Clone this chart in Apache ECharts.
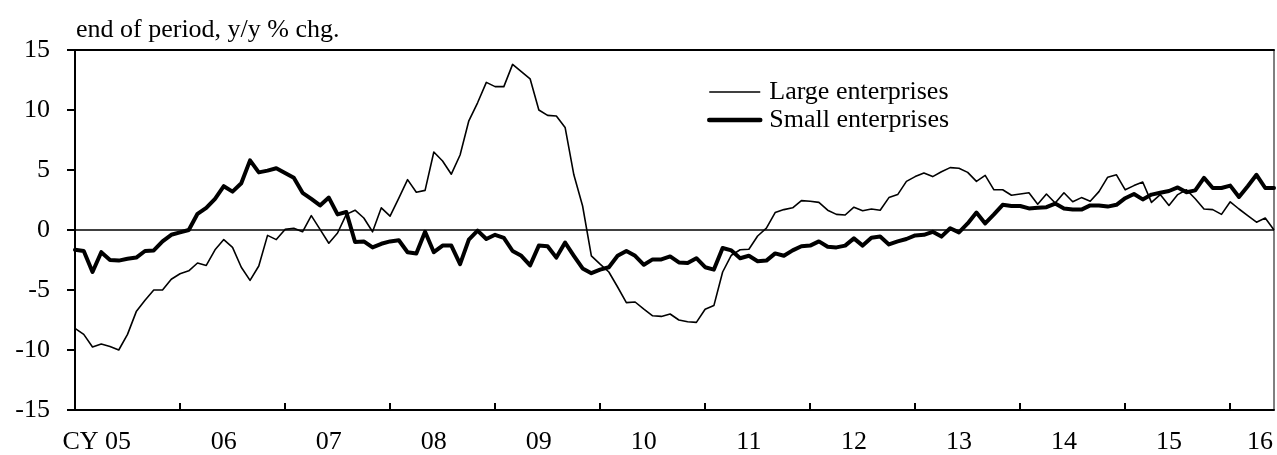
<!DOCTYPE html>
<html>
<head>
<meta charset="utf-8">
<script src="https://cdn.jsdelivr.net/npm/echarts@6/dist/echarts.min.js"></script>
<style>
  html, body { margin: 0; padding: 0; background: #fff; }
  #chart { width: 1277px; height: 455px; }
</style>
</head>
<body>
<div id="chart"></div>
<script>
// Monthly series, January 2005 onward (end of period, y/y % change)
const firstYear = 2005;
const monthCount = 138;

const yearLabels = ['CY 05', '06', '07', '08', '09', '10', '11', '12', '13', '14', '15', '16'];

const yMin = -15;
const yMax = 15;
const yStep = 5;

const largeEnterprises = [
  -8.2, -8.7, -9.75, -9.5, -9.7, -10.0, -8.7, -6.8, -5.85, -5.0, -5.0, -4.1,
  -3.65, -3.4, -2.75, -2.95, -1.65, -0.8, -1.45, -3.1, -4.2, -3.0, -0.45, -0.8,
  0.05, 0.15, -0.15, 1.2, 0.05, -1.1, -0.25, 1.3, 1.65, 1.0, -0.15, 1.85,
  1.15, 2.65, 4.2, 3.15, 3.3, 6.5, 5.75, 4.65, 6.25, 9.1, 10.6, 12.3,
  11.95, 11.95, 13.8, 13.2, 12.6, 10.0, 9.55, 9.5, 8.55, 4.6, 2.0, -2.15,
  -2.85, -3.5, -4.75, -6.05, -6.0, -6.6, -7.15, -7.2, -7.0, -7.5, -7.65, -7.7,
  -6.6, -6.3, -3.5, -2.1, -1.65, -1.6, -0.5, 0.15, 1.45, 1.7, 1.85, 2.45,
  2.4, 2.3, 1.65, 1.3, 1.25, 1.9, 1.6, 1.75, 1.65, 2.7, 2.95, 4.05,
  4.45, 4.75, 4.45, 4.85, 5.2, 5.15, 4.8, 4.05, 4.55, 3.35, 3.35, 2.9,
  3.0, 3.1, 2.15, 3.0, 2.25, 3.1, 2.35, 2.7, 2.4, 3.2, 4.4, 4.6,
  3.35, 3.7, 4.0, 2.3, 2.95, 2.05, 2.95, 3.35, 2.6, 1.75, 1.7, 1.3,
  2.35, 1.75, 1.2, 0.65, 1.0, 0.0
];

const smallEnterprises = [
  -1.65, -1.75, -3.5, -1.85, -2.5, -2.55, -2.4, -2.3, -1.75, -1.7, -0.95, -0.4,
  -0.2, 0.0, 1.35, 1.85, 2.6, 3.65, 3.2, 3.9, 5.8, 4.8, 4.95, 5.15,
  4.75, 4.35, 3.1, 2.6, 2.05, 2.7, 1.3, 1.5, -1.0, -0.95, -1.45, -1.15,
  -0.95, -0.85, -1.85, -1.95, -0.15, -1.85, -1.3, -1.3, -2.85, -0.8, -0.05, -0.75,
  -0.4, -0.65, -1.75, -2.15, -2.95, -1.3, -1.35, -2.3, -1.05, -2.15, -3.2, -3.6,
  -3.3, -3.1, -2.15, -1.75, -2.15, -2.9, -2.45, -2.45, -2.2, -2.7, -2.75, -2.35,
  -3.1, -3.3, -1.5, -1.7, -2.35, -2.15, -2.6, -2.55, -1.95, -2.15, -1.7, -1.35,
  -1.3, -0.95, -1.4, -1.45, -1.3, -0.7, -1.3, -0.65, -0.55, -1.2, -0.95, -0.75,
  -0.45, -0.4, -0.15, -0.55, 0.15, -0.2, 0.55, 1.45, 0.55, 1.3, 2.1, 2.0,
  2.0, 1.8, 1.85, 1.9, 2.2, 1.8, 1.7, 1.7, 2.05, 2.05, 1.95, 2.1,
  2.65, 3.0, 2.55, 2.95, 3.1, 3.25, 3.55, 3.15, 3.3, 4.35, 3.5, 3.5,
  3.7, 2.75, 3.65, 4.6, 3.5, 3.5
];

// Month categories such as "2005/01"
const months = [];
for (let i = 0; i < monthCount; i++) {
  const y = firstYear + Math.floor(i / 12);
  const m = (i % 12) + 1;
  months.push(y + '/' + (m < 10 ? '0' : '') + m);
}

const serif = '"Liberation Serif", "Times New Roman", Times, serif';
const ink = '#000';

const chart = echarts.init(document.getElementById('chart'), null, { renderer: 'canvas' });

chart.setOption({
  animation: false,
  backgroundColor: '#fff',
  title: {
    text: 'end of period, y/y % chg.',
    left: 76,
    top: 17,
    padding: 0,
    textStyle: { fontFamily: serif, fontSize: 26, fontWeight: 'normal', color: ink }
  },
  legend: {
    orient: 'vertical',
    left: 707,
    top: 79,
    padding: 0,
    itemGap: 2,
    itemWidth: 51,
    itemHeight: 14,
    selectedMode: false,
    // keys are plain lines: the point marker is hidden
    itemStyle: { opacity: 0 },
    textStyle: { fontFamily: serif, fontSize: 26, color: ink, padding: [0, 0, 0, 4] },
    data: [
      { name: 'Large enterprises', itemStyle: { opacity: 0 }, lineStyle: { width: 1.6, color: ink } },
      { name: 'Small enterprises', itemStyle: { opacity: 0 }, lineStyle: { width: 4.5, color: ink, cap: 'round' } }
    ]
  },
  grid: {
    left: 75,
    right: 3,
    top: 50,
    bottom: 41,
    show: true,
    borderColor: ink,
    borderWidth: 1,
    backgroundColor: 'transparent'
  },
  xAxis: [
    {
      type: 'category',
      data: months,
      boundaryGap: false,
      position: 'bottom',
      axisLine: { onZero: false, lineStyle: { color: ink, width: 2 } },
      axisTick: {
        inside: true,
        length: 7,
        interval: function (i) { return i % 12 === 0; },
        lineStyle: { color: ink, width: 2 }
      },
      axisLabel: {
        interval: function (i) { return i % 12 === 5; },
        formatter: function (v, i) {
          const k = (i - 5) / 12;
          if (k === 0) return '{first|' + yearLabels[k] + '}';
          if (k === yearLabels.length - 1) return '{last|' + yearLabels[k] + '}';
          return yearLabels[k];
        },
        color: ink,
        fontFamily: serif,
        fontSize: 26,
        margin: 19,
        rich: {
          first: { fontFamily: serif, fontSize: 26, color: ink, padding: [0, 44, 0, 0] },
          last: { fontFamily: serif, fontSize: 26, color: ink, padding: [0, 28, 0, 0] }
        }
      },
      splitLine: { show: false }
    },
    {
      type: 'category',
      data: months,
      boundaryGap: false,
      position: 'top',
      axisLine: { onZero: false, lineStyle: { color: ink, width: 2 } },
      axisTick: { show: false },
      axisLabel: { show: false },
      splitLine: { show: false }
    }
  ],
  yAxis: {
    type: 'value',
    min: yMin,
    max: yMax,
    interval: yStep,
    axisLine: { show: true, onZero: false, lineStyle: { color: ink, width: 2 } },
    axisTick: { show: true, length: 8, lineStyle: { color: ink, width: 2 } },
    axisLabel: { color: ink, fontFamily: serif, fontSize: 26, margin: 25 },
    splitLine: { show: false }
  },
  series: [
    {
      name: 'Large enterprises',
      type: 'line',
      data: largeEnterprises,
      symbol: 'none',
      showSymbol: false,
      z: 3,
      lineStyle: { color: ink, width: 1.6, join: 'round' },
      itemStyle: { color: ink },
      markLine: {
        silent: true,
        symbol: 'none',
        label: { show: false },
        lineStyle: { color: ink, width: 1.5, type: 'solid' },
        data: [{ yAxis: 0 }]
      }
    },
    {
      name: 'Small enterprises',
      type: 'line',
      data: smallEnterprises,
      symbol: 'none',
      showSymbol: false,
      z: 4,
      lineStyle: { color: ink, width: 4, join: 'round', cap: 'round' },
      itemStyle: { color: ink }
    }
  ]
});
</script>
</body>
</html>
